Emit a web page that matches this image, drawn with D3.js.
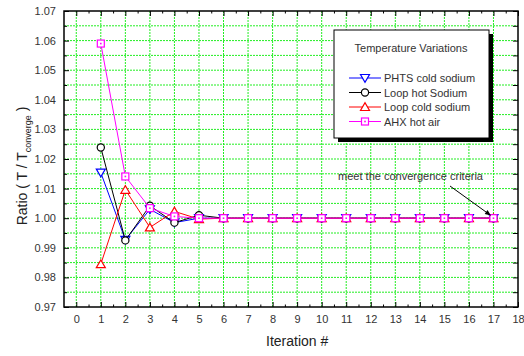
<!DOCTYPE html>
<html>
<head>
<meta charset="utf-8">
<script src="https://cdn.jsdelivr.net/npm/d3@7"></script>
<style>
  html, body { margin: 0; padding: 0; background: #fff; }
  svg { display: block; font-family: "Liberation Sans", Arial, sans-serif; }
</style>
</head>
<body>
<div id="chart"></div>
<script>
// iteration numbers
const iterations = [1, 2, 3, 4, 5, 6, 7, 8, 9, 10, 11, 12, 13, 14, 15, 16, 17];

// ratio T / T_converge per series
const phtsColdSodium = [1.0154, 0.9927, 1.0030, 0.9985, 1.0000, 1.0000, 1.0000, 1.0000, 1.0000, 1.0000, 1.0000, 1.0000, 1.0000, 1.0000, 1.0000, 1.0000, 1.0000];
const loopHotSodium  = [1.0239, 0.9925, 1.0042, 0.9985, 1.0010, 1.0000, 1.0000, 1.0000, 1.0000, 1.0000, 1.0000, 1.0000, 1.0000, 1.0000, 1.0000, 1.0000, 1.0000];
const loopColdSodium = [0.9845, 1.0096, 0.9969, 1.0023, 0.9997, 1.0000, 1.0000, 1.0000, 1.0000, 1.0000, 1.0000, 1.0000, 1.0000, 1.0000, 1.0000, 1.0000, 1.0000];
const ahxHotAir      = [1.0590, 1.0141, 1.0034, 1.0006, 1.0000, 1.0000, 1.0000, 1.0000, 1.0000, 1.0000, 1.0000, 1.0000, 1.0000, 1.0000, 1.0000, 1.0000, 1.0000];

const seriesNames = ['PHTS cold sodium', 'Loop hot Sodium', 'Loop cold sodium', 'AHX hot air'];

// tick labels
const xTicks = [0, 1, 2, 3, 4, 5, 6, 7, 8, 9, 10, 11, 12, 13, 14, 15, 16, 17, 18];
const yTicks = [0.97, 0.98, 0.99, 1.00, 1.01, 1.02, 1.03, 1.04, 1.05, 1.06, 1.07];
const yMinorTicks = [0.975, 0.985, 0.995, 1.005, 1.015, 1.025, 1.035, 1.045, 1.055, 1.065];
const xMinorTicks = [0.5, 1.5, 2.5, 3.5, 4.5, 5.5, 6.5, 7.5, 8.5, 9.5, 10.5, 11.5, 12.5, 13.5, 14.5, 15.5, 16.5, 17.5];

const annotation = 'meet the convergence criteria';

const width = 524, height = 356;
const margin = { top: 11, right: 6, bottom: 49, left: 64 };
const innerW = width - margin.left - margin.right;
const innerH = height - margin.top - margin.bottom;

const series = [
    { name: seriesNames[0], values: phtsColdSodium, color: '#0000ff', symbol: 'down' },
    { name: seriesNames[1], values: loopHotSodium, color: '#000000', symbol: 'circle' },
    { name: seriesNames[2], values: loopColdSodium, color: '#ff0000', symbol: 'up' },
    { name: seriesNames[3], values: ahxHotAir, color: '#ff00ff', symbol: 'square' }
];

const svg = d3.select('#chart').append('svg')
    .attr('width', width)
    .attr('height', height);

const defs = svg.append('defs');
defs.append('marker')
    .attr('id', 'arrow')
    .attr('viewBox', '0 0 10 10')
    .attr('refX', 9).attr('refY', 5)
    .attr('markerWidth', 8).attr('markerHeight', 6)
    .attr('markerUnits', 'userSpaceOnUse')
    .attr('orient', 'auto')
    .append('path')
    .attr('d', 'M0,1 L10,5 L0,9 Z')
    .attr('fill', '#000');

const chart = svg.append('g')
    .attr('transform', `translate(${margin.left},${margin.top})`);

const xScale = d3.scaleLinear().domain([-0.5, 18]).range([0, innerW]);
const yScale = d3.scaleLinear().domain([0.97, 1.07]).range([innerH, 0]);

// grid
const grid = chart.append('g').attr('class', 'grid');
grid.selectAll('.gx')
    .data(xTicks.filter(d => d < 18))
    .enter().append('line')
    .attr('x1', d => xScale(d)).attr('x2', d => xScale(d))
    .attr('y1', 0).attr('y2', innerH)
    .attr('stroke', '#22ee22')
    .attr('stroke-width', 1)
    .attr('stroke-dasharray', '2,1');
grid.selectAll('.gy')
    .data(yTicks.concat(yMinorTicks).filter(d => d > 0.971 && d < 1.069))
    .enter().append('line')
    .attr('x1', 0).attr('x2', innerW)
    .attr('y1', d => yScale(d)).attr('y2', d => yScale(d))
    .attr('stroke', '#22ee22')
    .attr('stroke-width', 1)
    .attr('stroke-dasharray', '2,1');

// axes
const styleAxis = g => {
    g.select('.domain').remove();
    g.selectAll('.tick line').attr('stroke', '#000');
    g.selectAll('.tick text').attr('fill', '#333').style('font-size', '11px');
};

chart.append('g')
    .attr('transform', `translate(0,${innerH})`)
    .call(d3.axisBottom(xScale).tickValues(xTicks).tickFormat(d3.format('d'))
        .tickSizeInner(-5).tickSizeOuter(0).tickPadding(8))
    .call(styleAxis);
chart.append('g')
    .attr('transform', `translate(0,${innerH})`)
    .call(d3.axisBottom(xScale).tickValues(xMinorTicks).tickFormat('')
        .tickSizeInner(-2.5).tickSizeOuter(0))
    .call(styleAxis);
chart.append('g')
    .call(d3.axisTop(xScale).tickValues(xTicks).tickFormat('')
        .tickSizeInner(-5).tickSizeOuter(0))
    .call(styleAxis);
chart.append('g')
    .call(d3.axisTop(xScale).tickValues(xMinorTicks).tickFormat('')
        .tickSizeInner(-2.5).tickSizeOuter(0))
    .call(styleAxis);

chart.append('g')
    .call(d3.axisLeft(yScale).tickValues(yTicks).tickFormat(d3.format('.2f'))
        .tickSizeInner(-5).tickSizeOuter(0).tickPadding(8))
    .call(styleAxis);
chart.append('g')
    .call(d3.axisLeft(yScale).tickValues(yMinorTicks).tickFormat('')
        .tickSizeInner(-3).tickSizeOuter(0))
    .call(styleAxis);
chart.append('g')
    .attr('transform', `translate(${innerW},0)`)
    .call(d3.axisRight(yScale).tickValues(yTicks.concat(yMinorTicks)).tickFormat('')
        .tickSizeInner(-5).tickSizeOuter(0))
    .call(styleAxis);

// frame
chart.append('rect')
    .attr('width', innerW).attr('height', innerH)
    .attr('fill', 'none')
    .attr('stroke', '#000')
    .attr('stroke-width', 1.5);

// symbols
const drawSymbol = (g, symbol, color) => {
    if (symbol === 'circle') {
        g.append('circle').attr('r', 3.6)
            .attr('fill', '#fff').attr('stroke', color).attr('stroke-width', 1.2);
    } else if (symbol === 'down') {
        g.append('path').attr('d', 'M-4.5,-3.5 L4.5,-3.5 L0,4.2 Z')
            .attr('fill', '#fff').attr('stroke', color).attr('stroke-width', 1.2);
    } else if (symbol === 'up') {
        g.append('path').attr('d', 'M-4.5,3.5 L4.5,3.5 L0,-4.2 Z')
            .attr('fill', '#fff').attr('stroke', color).attr('stroke-width', 1.2);
    } else {
        g.append('rect').attr('x', -3.5).attr('y', -3.5).attr('width', 7).attr('height', 7)
            .attr('fill', '#fff').attr('stroke', color).attr('stroke-width', 1.2);
        g.append('rect').attr('x', -0.8).attr('y', -0.8).attr('width', 1.6).attr('height', 1.6)
            .attr('fill', color);
    }
};

const line = d3.line()
    .x(d => xScale(d.x))
    .y(d => yScale(d.y));

series.forEach(s => {
    const pts = iterations.map((it, i) => ({ x: it, y: s.values[i] }));
    const g = chart.append('g').attr('class', 'series');
    g.append('path')
        .datum(pts)
        .attr('d', line)
        .attr('fill', 'none')
        .attr('stroke', s.color)
        .attr('stroke-width', 1);
    g.selectAll('.pt')
        .data(pts)
        .enter().append('g')
        .attr('transform', d => `translate(${xScale(d.x)},${yScale(d.y)})`)
        .each(function () { drawSymbol(d3.select(this), s.symbol, s.color); });
});

// annotation
const lastX = iterations[iterations.length - 1];
chart.append('text')
    .attr('x', 419).attr('y', 169)
    .attr('text-anchor', 'end')
    .attr('fill', '#333')
    .style('font-size', '11px')
    .text(annotation);
chart.append('line')
    .attr('x1', 386).attr('y1', 175)
    .attr('x2', xScale(lastX) - 3).attr('y2', yScale(ahxHotAir[ahxHotAir.length - 1]) - 3)
    .attr('stroke', '#000')
    .attr('stroke-width', 1)
    .attr('marker-end', 'url(#arrow)');

// legend
const legend = svg.append('g').attr('transform', 'translate(334,30)');
legend.append('rect')
    .attr('x', 4).attr('y', 4).attr('width', 155).attr('height', 108)
    .attr('fill', '#000');
legend.append('rect')
    .attr('width', 155).attr('height', 108)
    .attr('fill', '#fff').attr('stroke', '#000').attr('stroke-width', 1);
legend.append('text')
    .attr('x', 77).attr('y', 22)
    .attr('text-anchor', 'middle')
    .attr('fill', '#333')
    .style('font-size', '11px')
    .text('Temperature Variations');
series.forEach((s, i) => {
    const row = legend.append('g').attr('transform', `translate(0,${48 + i * 14.5})`);
    row.append('line')
        .attr('x1', 15).attr('x2', 47)
        .attr('stroke', s.color).attr('stroke-width', 1);
    const m = row.append('g').attr('transform', 'translate(31,0)');
    drawSymbol(m, s.symbol, s.color);
    row.append('text')
        .attr('x', 50).attr('y', 4)
        .attr('fill', '#333')
        .style('font-size', '11px')
        .text(s.name);
});

// axis titles
svg.append('text')
    .attr('x', margin.left + xScale(9)).attr('y', 346)
    .attr('text-anchor', 'middle')
    .attr('fill', '#222')
    .style('font-size', '14px')
    .text('Iteration #');

const yTitle = svg.append('text')
    .attr('transform', 'translate(27,166) rotate(-90)')
    .attr('text-anchor', 'middle')
    .attr('fill', '#222')
    .style('font-size', '14px');
yTitle.append('tspan').text('Ratio ( T / T');
yTitle.append('tspan').attr('dy', 4).style('font-size', '9px').text('converge');
yTitle.append('tspan').attr('dy', -4).text(' )');
</script>
</body>
</html>
